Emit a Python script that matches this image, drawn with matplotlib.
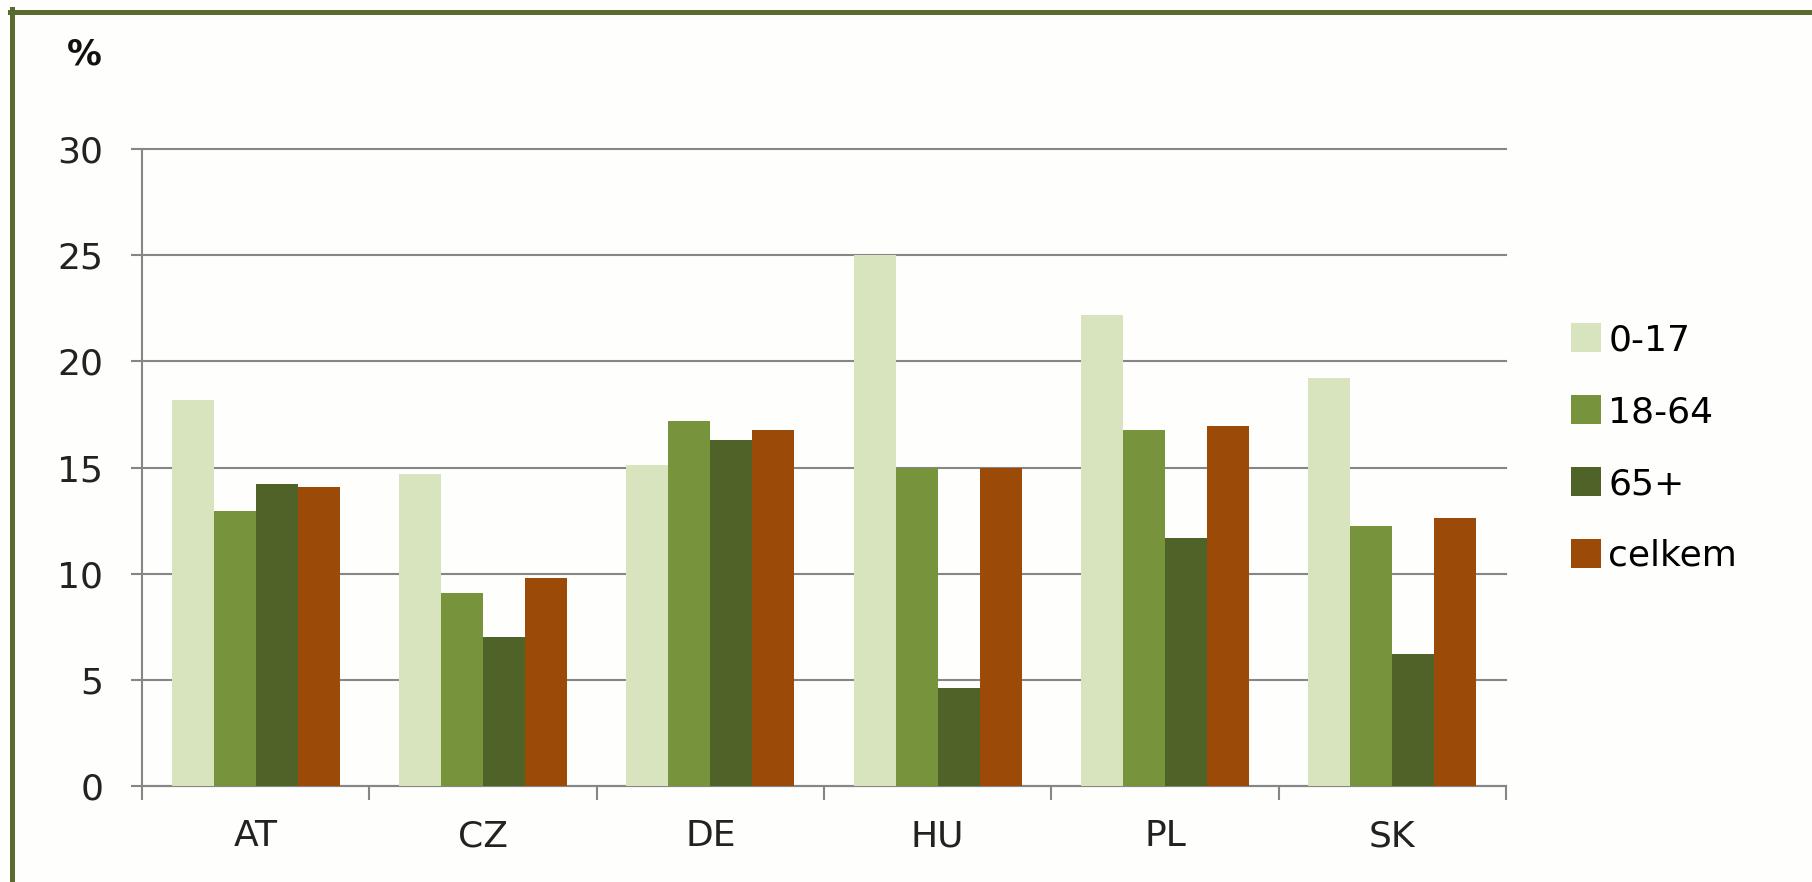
import matplotlib
matplotlib.use("Agg")
import matplotlib.pyplot as plt
from matplotlib.lines import Line2D
import numpy as np

# data
countries = ["AT", "CZ", "DE", "HU", "PL", "SK"]
age_0_17 = [18.2, 14.7, 15.1, 25.0, 22.2, 19.2]
age_18_64 = [12.95, 9.1, 17.2, 15.0, 16.75, 12.25]
age_65plus = [14.2, 7.0, 16.3, 4.6, 11.7, 6.2]
celkem = [14.1, 9.8, 16.75, 15.0, 16.95, 12.6]

series_names = ["0-17", "18-64", "65+", "celkem"]
colors = ["#d7e4bd", "#77933c", "#4f6228", "#9c4a08"]
yticks = [0, 5, 10, 15, 20, 25, 30]

plt.rcParams['font.family'] = ['DejaVu Sans']
fig = plt.figure(figsize=(18.12, 8.82), dpi=100, facecolor="#fefefc")
ax = fig.add_axes([0.0784, 0.1088, 0.7527, 0.7223])
ax.set_facecolor("#fefefc")

x = np.arange(len(countries))
w = 0.185
allseries = [age_0_17, age_18_64, age_65plus, celkem]
for i, vals in enumerate(allseries):
    ax.bar(x + (i - 1.5) * w, vals, width=w, color=colors[i],
           label=series_names[i], zorder=3)

ax.set_xlim(-0.5, len(countries) - 0.5)
ax.set_ylim(0, 30)
ax.set_yticks(yticks)
ax.yaxis.grid(True, color="#868686", linewidth=1.5, zorder=0)
for gl in ax.get_ygridlines():
    gl.set_clip_on(False)

ax.set_xticks(x)
ax.set_xticklabels(countries)
ax.set_xticks(np.arange(len(countries) + 1) - 0.5, minor=True)
ax.tick_params(axis="x", which="major", length=0, pad=24, labelsize=26, colors="#222222")
ax.tick_params(axis="x", which="minor", length=10, width=1.5, color="#868686", direction="out")
ax.tick_params(axis="y", length=8, width=1.5, color="#868686", pad=20, labelsize=26,
               labelcolor="#222222")

for s in ["top", "right"]:
    ax.spines[s].set_visible(False)
for s in ["left", "bottom"]:
    ax.spines[s].set_color("#868686")
    ax.spines[s].set_linewidth(1.5)

fig.text(0.0464, 0.938, "%", fontsize=25, fontweight="bold", ha="center", va="center",
         color="#111111")

ax.legend(loc="center left", bbox_to_anchor=(0.859, 0.492), bbox_transform=fig.transFigure,
          frameon=False, fontsize=26, handlelength=0.83, handleheight=0.83,
          handletextpad=0.2, labelspacing=1.05, borderaxespad=0)

# green frame on top and left
fig.add_artist(Line2D([10 / 1812, 1], [1 - 11.5 / 882, 1 - 11.5 / 882],
                      transform=fig.transFigure, color="#5a6b30", linewidth=3.6))
fig.add_artist(Line2D([11.5 / 1812, 11.5 / 1812], [0, 1 - 9 / 882],
                      transform=fig.transFigure, color="#5a6b30", linewidth=3.6))

fig.savefig("out.png", dpi=100, facecolor=fig.get_facecolor())
